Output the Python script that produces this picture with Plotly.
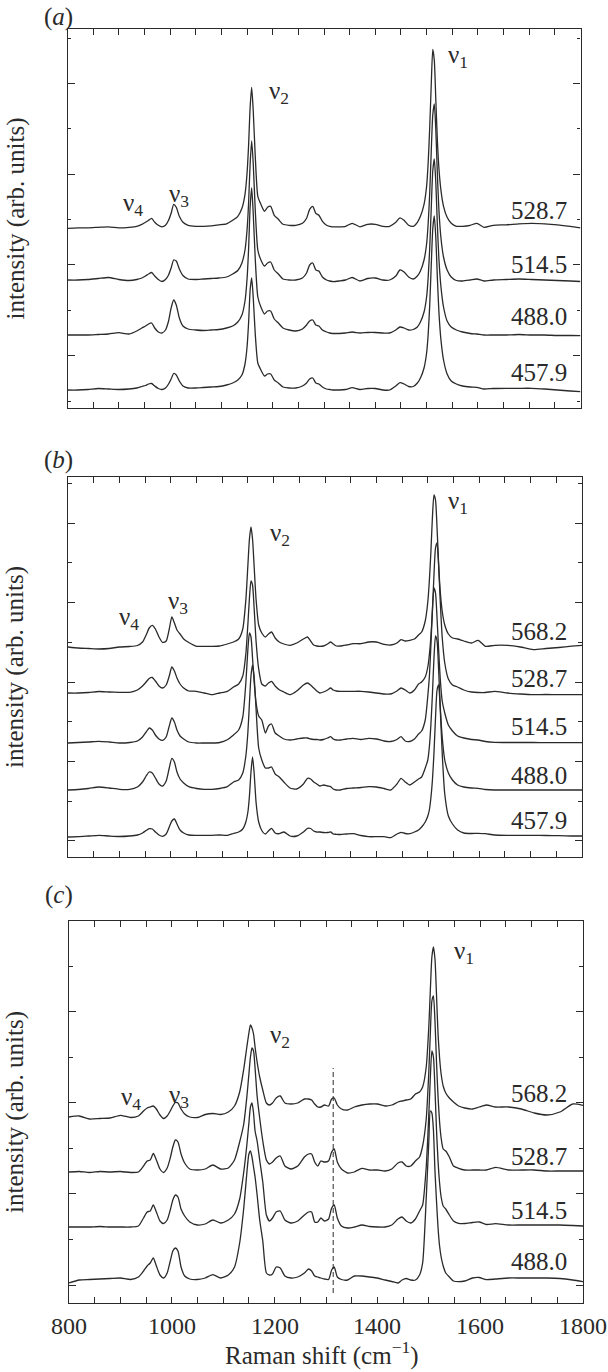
import plotly.graph_objects as go

# ---------------- data ----------------
RAMAN_SHIFT = [
    800, 820, 840, 860, 880, 900, 920, 935, 945, 952,
    958, 964, 970, 977, 984, 991, 997, 1002, 1007, 1012,
    1018, 1025, 1035, 1050, 1065, 1080, 1095, 1110, 1122, 1132,
    1140, 1146, 1150, 1153, 1156, 1159, 1162, 1166, 1171, 1177,
    1184, 1190, 1196, 1203, 1211, 1220, 1232, 1245, 1258, 1266,
    1272, 1278, 1284, 1290, 1297, 1305, 1311, 1316, 1322, 1330,
    1342, 1355, 1370, 1385, 1400, 1415, 1428, 1440, 1448, 1456,
    1465, 1474, 1482, 1488, 1495, 1500, 1503, 1506, 1509, 1512,
    1515, 1518, 1521, 1524, 1528, 1533, 1540, 1548, 1558, 1570,
    1585, 1598, 1612, 1630, 1655, 1680, 1705, 1730, 1755, 1780,
    1800,
]
X_TICK_LABELS = [800, 1000, 1200, 1400, 1600, 1800]

# panel (a)
A_LABELS = ["528.7", "514.5", "488.0", "457.9"]
A_OFFSETS = [179.7, 128, 73, 18]
A_528_7 = [
    0, 0.5, 0.5, 1, 1.5, 0.5, 1, 2, 4, 6,
    8, 10, 6, 3, 1.5, 3, 8, 15, 24, 21,
    12, 6, 3, 2, 2, 2.5, 3.5, 4.5, 8, 12,
    20, 34, 55, 83, 121, 141, 118, 72, 32, 24,
    17, 21, 22, 13, 9, 4, 3, 3, 5, 10,
    19, 22, 15, 13, 7, 3, 2, 1.5, 1.5, 1.5,
    2, 5, 1.5, 4, 4, 2, 2, 6, 10.5, 8,
    3, 2, 6, 12, 24, 42, 65, 100, 143, 179,
    168, 128, 88, 60, 38, 22, 11, 5, 2, 2,
    3, 5, 1, 3, 3.5, 4.5, 5, 4.5, 3.5, 2,
    0.5,
]
A_514_5 = [
    0, 0, 0.5, 1.5, 2.5, 0.5, -0.5, 0.5, 2, 4,
    6, 7.5, 4, 0.5, -1.5, 0.5, 5, 12, 20, 19,
    11, 4.5, 1, 0.5, 1, 1.5, 2, 3, 6, 9.5,
    17, 30, 50, 77, 116, 139, 117, 70, 30, 20,
    14, 17, 18, 10, 6, 1, 0, 0, 2, 7,
    15, 17, 10, 9, 3, 0, -1, -1.5, -1.5, -1,
    0, 2.5, -1, 1.5, 2, 0, 0, 4, 10, 8,
    3, 1, 4, 9, 20, 36, 56, 86, 128, 165,
    176, 150, 106, 70, 42, 23, 10, 3, -0.5, -1,
    0, 1, -1, 0, 0.5, 1, 0.5, 0, -0.5, -1,
    -1.5,
]
A_488_0 = [
    0, 0, 0, 0.5, 1, 2.3, 1, 4, 7, 9,
    11, 12, 7, 3, 2, 5, 14, 27, 35, 30,
    17, 9, 6, 5, 4.5, 5, 5.5, 7, 9, 13,
    20, 34, 56, 86, 128, 147, 122, 76, 38, 28,
    21, 24, 24, 16, 12, 7, 5, 4, 6, 10,
    14, 15, 10, 9, 5, 3, 2, 1.5, 1.5, 1.5,
    2, 3, 2, 2.5, 2.5, 2, 2, 5, 8, 7,
    5, 5.5, 8, 13, 23, 38, 57, 86, 126, 164,
    176, 152, 110, 76, 48, 28, 14, 8, 5, 3,
    1.5, 1, 0, 0, 0, 0.5, 0, 0, -0.5, -0.5,
    -0.7,
]
A_457_9 = [
    0, 0, 0.5, 1.5, 1, 0.5, 1, 2, 3.5, 4.5,
    6, 6.5, 4, 1.5, 0.5, 2, 6, 11, 16.5, 15,
    9, 4, 2, 2, 2.5, 3, 3.5, 5, 7, 10,
    15, 26, 43, 67, 100, 112, 93, 56, 27, 20,
    14, 16, 16, 10, 7, 3, 2, 2, 4, 7,
    11, 12, 7, 6, 3, 1, 0.5, 0, 0, 0,
    0.5, 2.3, 0.5, 1.5, 1.5, 0, 0, 4, 7.3, 6,
    3.5, 3.5, 7, 12, 22, 37, 55, 84, 124, 161,
    174, 152, 112, 78, 50, 30, 16, 9, 6, 4,
    3, 2.7, 1, 1.5, 1.7, 1.7, 1.7, 1, 0, -1,
    -1.7,
]

# panel (b)
B_LABELS = ["568.2", "528.7", "514.5", "488.0", "457.9"]
B_OFFSETS = [210, 164, 114, 67, 20]
B_568_2 = [
    0, -1, -1.5, -2, -1.5, 0, 0.5, 1.5, 5, 12,
    19, 21.7, 18, 10, 4.5, 6, 18, 30, 24, 17,
    13, 8, 4.5, 0.7, 0.7, 0.7, 1, 3, 5, 8,
    18, 47, 82, 108, 120, 108, 82, 47, 22, 14,
    10, 13, 15, 9, 5, 3, 1.7, 4, 8, 10,
    6, 2, 1, 0.7, 1, 3, 5, 3, 1, 1,
    2, 3.3, 3.3, 5, 5, 2.7, 2, 4, 7.3, 6,
    6.7, 8, 12, 15, 26, 45, 66, 95, 130, 152,
    147, 119, 84, 57, 36, 22, 13, 9, 8, 6,
    4, 6.7, 0.7, 1.7, 1.7, 0, -2.6, -1.5, -0.5, 0.8,
    1.7,
]
B_528_7 = [
    0, 0, 0.5, 1.5, 1, 0.7, 0.7, 3, 7, 11,
    14.5, 15.5, 12, 7, 5, 8, 17, 26, 22, 15,
    9, 5, 2, 1.7, 0, -1.7, 0, 1.7, 6, 9,
    17, 39, 69, 95, 112, 108, 86, 51, 24, 9,
    7, 10, 11.7, 7, 3.3, 1, -1.7, 2, 8, 10,
    8, 5, 2, 0, 1, 3, 5, 3, 2, 1.7,
    1.7, 1.7, 1.7, 1, 0, -1, -1, 2, 5, 3,
    0, 3, 9, 11, 16, 26, 38, 56, 83, 118,
    145, 150, 128, 94, 56, 30, 14, 8, 6, 3,
    1, 0.5, 0.5, 1.7, 0, -1, -1.7, -1.5, -1.7, -1.7,
    -1.7,
]
B_514_5 = [
    0, 0.5, 1, 1.7, 1, 0, 0.5, 2, 6, 11,
    15, 13, 8, 4, 2.6, 6, 17, 25, 21, 13,
    7, 4, 1, 0, 0, 0, 0.5, 3.3, 8, 13,
    26, 60, 94, 110, 106, 85, 62, 40, 27, 23,
    10, 17, 19, 10, 7, 4, 3, 4, 5, 5,
    4, 3.5, 3.5, 3, 3.5, 5, 6.3, 4, 3, 3,
    4, 4.7, 3.5, 4.7, 4, 2, 1.5, 3.5, 6.3, 2,
    1.5, 4, 9, 12, 23, 47, 66, 97, 133, 155,
    150, 125, 94, 66, 42, 30, 18, 12, 7, 5,
    3.5, 3, 1.5, 0.7, 0.5, 0.5, 0.5, 0.3, 0.3, 0.3,
    0.3,
]
B_488_0 = [
    0, 0.5, 1.5, 3, 2, 0.7, 0.7, 3, 8, 14,
    18, 17, 12, 6, 4, 9, 22, 31.7, 28, 18,
    11, 7, 3.3, 1.5, 0.7, 0.7, 1.5, 3.3, 8, 10,
    17, 34, 58, 87, 114, 125, 114, 80, 42, 30,
    22, 22, 23, 16, 13, 8, 2, 1, 6, 11.7,
    11, 8, 6, 4, 5, 4, 3.3, 1, 0, 0,
    1.5, 2, 2.5, 3.3, 3, 1.5, 0, 6, 11.7, 8,
    5, 8, 11, 13, 22, 30, 43, 65, 96, 132,
    154, 149, 121, 86, 53, 30, 17, 10, 5, 3,
    2, 1.7, 0.5, 0, 0, 0, 0, 0, 0, 0,
    0,
]
B_457_9 = [
    0, 0.3, 1, 1.7, 1, 0.5, 1, 2, 4, 6.5,
    8.3, 8, 5, 2, 0.7, 3, 10, 16, 18, 13,
    7, 4, 2, 1.7, 1.7, 1.7, 2, 1.7, 3.5, 5,
    8, 15, 25, 41, 65, 80, 65, 34, 15, 6.5,
    3, 6, 8.7, 4, 3.3, 5, 1, 1, 5, 8.7,
    8.5, 6, 5, 5, 4.5, 4.5, 5, 3, 2.7, 2.5,
    3, 3.3, 1.5, 0.3, 0.3, 0.3, -0.7, 3, 4.7, 3.5,
    3.3, 5, 7, 10, 15, 21, 27, 39, 57, 84,
    119, 147, 152, 130, 84, 43, 21, 13, 7, 4,
    3.5, 3.7, 3.3, 2, 1.7, 1.7, 1.7, 1.5, 1.3, 1,
    1,
]

# panel (c)
C_LABELS = ["568.2", "528.7", "514.5", "488.0"]
C_OFFSETS = [186, 131, 76, 20]
C_568_2 = [
    0, 1, -2, -1.5, -1, 1.7, -0.5, 1, 6, 9,
    10, 11, 8, 2, -1.5, 1, 6, 11, 14.5, 14,
    8, 3, 0, -0.5, 2.5, 3.5, 2.5, 5, 11, 25,
    48, 70, 84, 92, 89, 83, 70, 55, 40, 27,
    14, 12, 14, 19, 21, 14, 13, 14, 18, 18,
    17, 13, 10, 10, 12, 11, 18, 19, 12, 8,
    7, 10, 12, 13, 13, 11, 12, 15, 16, 17,
    18, 23, 25, 30, 50, 90, 127, 160, 170, 158,
    122, 83, 59, 43, 31, 24, 19, 15, 11, 9,
    8, 10, 12, 10, 10, 8, 4, 2, 5, 13,
    11.7,
]
C_528_7 = [
    0, 0.5, -0.5, 0.5, 0, 0.5, -0.5, 0, 6, 11,
    12, 18.5, 12, 3, -0.5, 4, 14, 25, 32, 30,
    18, 9, 3, 2, 3, 7, 3, 4, 12, 30,
    48, 75, 98, 115, 124, 121, 104, 76, 54, 31,
    12, 8, 10, 14, 16, 6, 3, 6, 15, 18,
    18, 10, 6, 11, 10, 11, 20, 23, 10, 3,
    -1, 0, 3.7, 2, 2, 1, 3, 9, 10, 6,
    6, 11, 15, 26, 53, 100, 139, 171, 176, 151,
    110, 75, 50, 34, 23, 21, 15, 6, 3.7, 2,
    2, 2, 2, 4.7, 2, 2, 2, 1, 1, 1,
    1,
]
C_514_5 = [
    0, 0, 0, 0.5, 0, 0, 0, 1, 9, 15,
    16, 22, 15, 6, 3.5, 7, 17, 27, 32, 30,
    18, 11, 5, 2, 3, 7, 4, 7, 13, 28,
    55, 82, 104, 120, 124, 114, 96, 86, 67, 45,
    12, 6, 9, 15, 16, 7, 4, 6, 12, 15,
    15, 5, 5, 9, 6, 8, 19, 22, 9, 1,
    -1, 0, 2, 0.5, 0, 0, 2, 8, 10, 6,
    4, 8, 16, 22, 60, 112, 150, 176, 170, 138,
    97, 66, 44, 30, 21, 18, 12, 6, 3.7, 3.5,
    4.5, 5, 2.5, 3.3, 2, 2, 2, 2, 2, 1.5,
    1,
]
C_488_0 = [
    0, 3, 3.5, 4, 4.5, 5, 3.5, 6, 12, 17,
    20, 25, 17, 8, 5, 10, 22, 32, 35, 32,
    16, 7, 4, 3.5, 5, 8.3, 5, 8, 16, 40,
    75, 110, 129, 132, 126, 116, 106, 88, 63, 42,
    10, 8, 9, 16, 15, 7, 5, 6, 10, 14,
    12, 7, 6, 5, 4, 3.5, 13, 16, 6, 3.5,
    3, 7, 7, 6, 5, 3, 1.5, 0, 3, 4.5,
    3, 3, 8, 20, 85, 141, 172, 170, 153, 112,
    82, 55, 37, 26, 17, 10, 6, 2, 1.3, 2,
    5, 5.5, 3.3, 4, 5, 5, 5, 5, 4.5, 3,
    1.3,
]

DASHED_LINE_SHIFT = 1314

PANELS = [
    dict(tag="a", series=[A_528_7, A_514_5, A_488_0, A_457_9], labels=A_LABELS, offsets=A_OFFSETS),
    dict(tag="b", series=[B_568_2, B_528_7, B_514_5, B_488_0, B_457_9], labels=B_LABELS, offsets=B_OFFSETS),
    dict(tag="c", series=[C_568_2, C_528_7, C_514_5, C_488_0], labels=C_LABELS, offsets=C_OFFSETS),
]

# ---------------- layout geometry (pixels) ----------------
W, H = 608, 1372
FONT = "Liberation Serif, Times New Roman, Times, DejaVu Serif, serif"
INK = "#2a2a2a"
FS = 25

FRAMES = [(67.5, 580.5, 29, 408), (68, 582, 477, 857), (69, 583, 921, 1303)]
YTICKS = [(52.35, 90.7), (16.3, 79.35), (18.0, 91.1)]
LABEL_Y = [[210, 265, 316.7, 372.7], [631.7, 678.3, 726, 775, 820], [1093.3, 1156, 1210, 1261.7]]
LABEL_RIGHT = 569
NU_POS = [
    [(447, 55), (268.3, 91), (168, 194), (122, 202.5)],
    [(446.7, 501), (269, 532.5), (166.7, 601), (118, 616)],
    [(453.3, 950), (269, 1034), (168, 1094), (120, 1096)],
]
PANEL_LABEL_Y = [17.5, 460, 895]
TICK_LABEL_Y = 1326
X_TITLE_Y = 1353


def fx(p):
    return p / W


def fy(p):
    return 1 - p / H


def text_font(size=FS):
    return dict(family=FONT, size=size, color=INK)


fig = go.Figure()
layout = dict(
    width=W, height=H, margin=dict(l=0, r=0, t=0, b=0),
    paper_bgcolor="white", plot_bgcolor="white", showlegend=False,
    font=text_font(),
)
annotations = []
shapes = []

for i, panel in enumerate(PANELS):
    k = "" if i == 0 else str(i + 1)
    left, right, top, bottom = FRAMES[i]
    ymax = bottom - top
    for vals, off in zip(panel["series"], panel["offsets"]):
        fig.add_trace(go.Scatter(
            x=RAMAN_SHIFT, y=[off + v for v in vals], mode="lines",
            line=dict(color=INK, width=1.3, shape="spline", smoothing=0.6),
            xaxis="x" + k, yaxis="y" + k, hoverinfo="skip",
        ))
    t0, dt = YTICKS[i]
    layout["xaxis" + k] = dict(
        domain=[fx(left), fx(right)], range=[800, 1800], anchor="y" + k,
        showline=True, linecolor=INK, linewidth=1.2, mirror="ticks",
        ticks="inside", ticklen=6, tickwidth=1, tickcolor=INK,
        tickmode="linear", tick0=800, dtick=200,
        minor=dict(ticks="inside", ticklen=6, tickwidth=1, tickcolor=INK,
                   tickmode="linear", tick0=800, dtick=50, showgrid=False),
        showgrid=False, zeroline=False, showticklabels=False, fixedrange=True,
    )
    layout["yaxis" + k] = dict(
        domain=[fy(bottom), fy(top)], range=[0, ymax], anchor="x" + k,
        showline=True, linecolor=INK, linewidth=1.2, mirror="ticks",
        ticks="inside", ticklen=7, tickwidth=1, tickcolor=INK,
        tickmode="linear", tick0=t0, dtick=dt,
        minor=dict(ticks="inside", ticklen=3.5, tickwidth=1, tickcolor=INK,
                   tickmode="linear", tick0=t0, dtick=dt / 2, showgrid=False),
        showgrid=False, zeroline=False, showticklabels=False, fixedrange=True,
    )
    annotations.append(dict(
        text="(<i>%s</i>)" % panel["tag"], x=fx(58.5), y=fy(PANEL_LABEL_Y[i]),
        xref="paper", yref="paper", xanchor="center", yanchor="middle",
        showarrow=False, font=text_font()))
    annotations.append(dict(
        text="intensity (arb. units)", x=fx(15), y=fy((top + bottom) / 2),
        xref="paper", yref="paper", xanchor="center", yanchor="middle",
        textangle=-90, showarrow=False, font=text_font()))
    for lab, ly in zip(panel["labels"], LABEL_Y[i]):
        annotations.append(dict(
            text=lab, x=fx(LABEL_RIGHT), y=fy(ly), xref="paper", yref="paper",
            xanchor="right", yanchor="middle", showarrow=False, font=text_font()))
    for n, (nx, ny) in enumerate(NU_POS[i]):
        annotations.append(dict(
            text="ν<sub>%d</sub>" % (n + 1), x=fx(nx - 1), y=fy(ny + 2),
            xref="paper", yref="paper", xanchor="left", yanchor="middle",
            showarrow=False, font=text_font()))

for v in X_TICK_LABELS:
    annotations.append(dict(
        text=str(v), x=v, y=fy(TICK_LABEL_Y), xref="x3", yref="paper",
        xanchor="center", yanchor="middle", showarrow=False, font=text_font(24)))

annotations.append(dict(
    text="Raman shift (cm<sup>−1</sup>)", x=fx(322), y=fy(X_TITLE_Y),
    xref="paper", yref="paper", xanchor="center", yanchor="middle",
    showarrow=False, font=text_font()))

shapes.append(dict(
    type="line", xref="x3", yref="y3", x0=DASHED_LINE_SHIFT, x1=DASHED_LINE_SHIFT,
    y0=10, y1=235, line=dict(color=INK, width=1, dash="5px,3px")))

layout["annotations"] = annotations
layout["shapes"] = shapes
fig.update_layout(**layout)
fig.write_html(
    "out.html",
    config={"displayModeBar": False},
    post_script="document.body.style.margin='0';document.body.style.padding='0';",
)
